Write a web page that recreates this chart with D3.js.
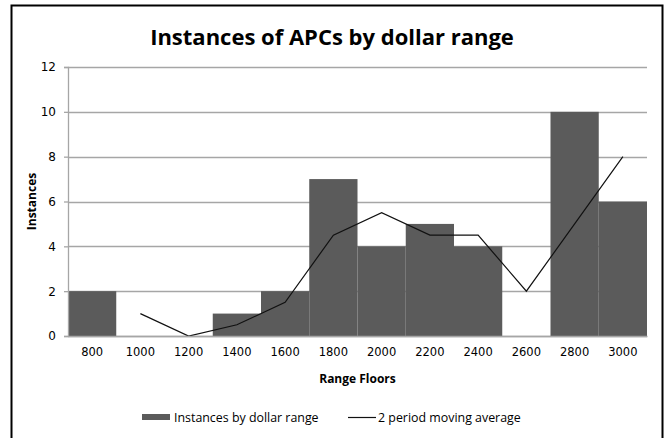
<!DOCTYPE html>
<html>
<head>
<meta charset="utf-8">
<script src="https://cdn.jsdelivr.net/npm/d3@7"></script>
<style>
  body { margin: 0; background: #fff; }
  text { font-family: "Open Sans", "DejaVu Sans", sans-serif; }
</style>
</head>
<body>
<svg id="chart" width="664" height="438"></svg>
<script>
  // chart data
  var categories = ['800', '1000', '1200', '1400', '1600', '1800', '2000', '2200', '2400', '2600', '2800', '3000'];
  var instances = [2, 0, 0, 1, 2, 7, 4, 5, 4, 0, 10, 6];
  var movingAvg = [null, 1, 0, 0.5, 1.5, 4.5, 5.5, 4.5, 4.5, 2, 5, 8];
  var yTicks = [0, 2, 4, 6, 8, 10, 12];

  var svg = d3.select('#chart');
  var margin = {left: 68, right: 17, top: 67, bottom: 102};
  var width = 664 - margin.left - margin.right;
  var height = 438 - margin.top - margin.bottom;

  // outer frame
  svg.append('rect')
    .attr('x', 11.5).attr('y', 5.5)
    .attr('width', 651).attr('height', 440)
    .attr('fill', '#fff').attr('stroke', '#000').attr('stroke-width', 2);

  svg.append('text')
    .attr('x', 332).attr('y', 45)
    .attr('text-anchor', 'middle')
    .style('font-size', '22px').style('font-weight', 'bold')
    .text('Instances of APCs by dollar range');

  var g = svg.append('g').attr('transform', 'translate(' + margin.left + ',' + margin.top + ')');

  var x = d3.scaleBand().domain(categories).range([0, width]).padding(0);
  var y = d3.scaleLinear().domain([0, 12]).range([height, 0]);

  // gridlines
  g.selectAll('.grid').data(yTicks).enter().append('line')
    .attr('x1', 0).attr('x2', width)
    .attr('y1', function(d) { return Math.round(y(d)) + 0.5; })
    .attr('y2', function(d) { return Math.round(y(d)) + 0.5; })
    .attr('stroke', '#a6a6a6').attr('stroke-width', 1.3);

  // bars
  g.selectAll('.bar').data(instances).enter().append('rect')
    .attr('x', function(d, i) { return x(categories[i]); })
    .attr('y', function(d) { return y(d); })
    .attr('width', x.bandwidth())
    .attr('height', function(d) { return height - y(d); })
    .attr('fill', '#5b5b5b');

  // moving average line
  var line = d3.line()
    .defined(function(d) { return d != null; })
    .x(function(d, i) { return x(categories[i]) + x.bandwidth() / 2; })
    .y(function(d) { return y(d); });
  g.append('path').datum(movingAvg)
    .attr('d', line)
    .attr('fill', 'none').attr('stroke', '#111').attr('stroke-width', 1.2);

  // y axis
  var yAxis = g.append('g').call(d3.axisLeft(y).tickValues(yTicks).tickSize(4).tickPadding(8));
  yAxis.select('.domain').attr('stroke', '#a6a6a6').attr('stroke-width', 1.3);
  yAxis.selectAll('.tick line').attr('stroke', '#a6a6a6').attr('stroke-width', 1.3);
  yAxis.selectAll('text').style('font-size', '12px').attr('fill', '#000')
    .style('font-family', '"DejaVu Sans", sans-serif');

  // x axis
  var xAxis = g.append('g').attr('transform', 'translate(0,' + height + ')')
    .call(d3.axisBottom(x).tickSize(0).tickPadding(12));
  xAxis.select('.domain').attr('stroke', '#a6a6a6').attr('stroke-width', 1.3);
  xAxis.selectAll('text').style('font-size', '11.5px').attr('fill', '#000')
    .style('font-family', '"DejaVu Sans", sans-serif');

  svg.append('text')
    .attr('x', margin.left + width / 2).attr('y', 383)
    .attr('text-anchor', 'middle')
    .style('font-size', '12px').style('font-weight', 'bold')
    .text('Range Floors');

  svg.append('text')
    .attr('transform', 'translate(36,' + (margin.top + height / 2) + ') rotate(-90)')
    .attr('text-anchor', 'middle')
    .style('font-size', '12px').style('font-weight', 'bold')
    .text('Instances');

  // legend
  var legend = svg.append('g').attr('transform', 'translate(142,417)');
  legend.append('rect').attr('x', 0).attr('y', -3).attr('width', 28).attr('height', 6).attr('fill', '#5b5b5b');
  legend.append('text').attr('x', 32).attr('y', 4.5).style('font-size', '12.4px').text('Instances by dollar range');
  legend.append('line').attr('x1', 206).attr('x2', 234).attr('y1', 0.5).attr('y2', 0.5)
    .attr('stroke', '#111').attr('stroke-width', 1.2);
  legend.append('text').attr('x', 236).attr('y', 4.5).style('font-size', '12.4px').text('2 period moving average');
</script>
</body>
</html>
